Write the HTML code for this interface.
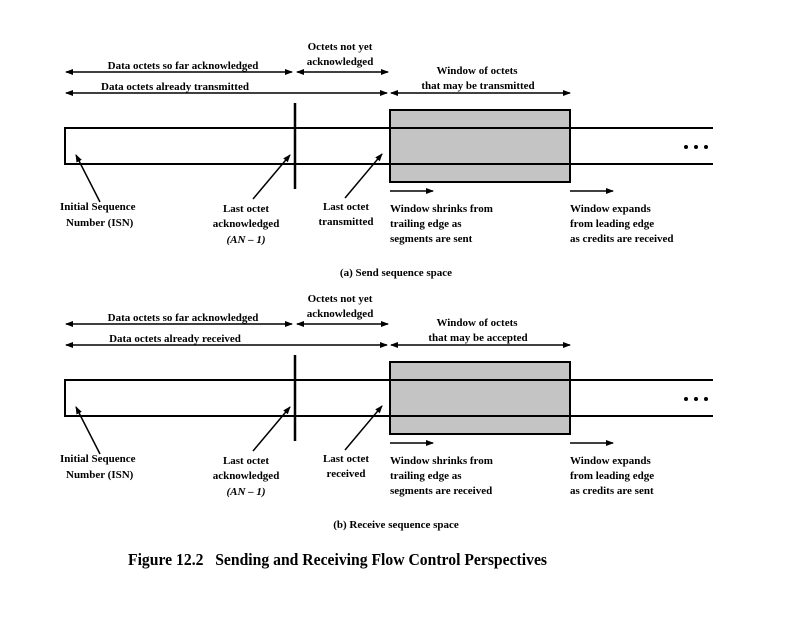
<!DOCTYPE html>
<html><head><meta charset="utf-8"><style>
html,body{margin:0;padding:0;background:#fff;}
svg text{font-family:"Liberation Serif",serif;font-weight:bold;font-size:11px;fill:#000;}
</style></head><body>
<svg width="792" height="612" viewBox="0 0 792 612" xmlns="http://www.w3.org/2000/svg">
<defs>
<marker id="a" markerWidth="8" markerHeight="6" refX="7" refY="3" orient="auto-start-reverse" markerUnits="userSpaceOnUse">
<path d="M0,0 L8,3 L0,6 Z" fill="#000"/></marker>
</defs>
<g id="pa" stroke="#000" stroke-width="1.5" fill="none">
<line x1="66" y1="72" x2="292" y2="72" marker-start="url(#a)" marker-end="url(#a)"/>
<line x1="297" y1="72" x2="388" y2="72" marker-start="url(#a)" marker-end="url(#a)"/>
<line x1="66" y1="93" x2="387" y2="93" marker-start="url(#a)" marker-end="url(#a)"/>
<line x1="391" y1="93" x2="570" y2="93" marker-start="url(#a)" marker-end="url(#a)"/>
<path d="M713,128 L65,128 L65,164 L713,164" stroke-width="2"/>
<rect x="390" y="110" width="180" height="72" fill="#c4c4c4" stroke-width="2"/>
<line x1="390" y1="128" x2="570" y2="128" stroke-width="2"/>
<line x1="390" y1="164" x2="570" y2="164" stroke-width="2"/>
<line x1="295" y1="103" x2="295" y2="189" stroke-width="2.5"/>
<line x1="100" y1="202" x2="76" y2="155" marker-end="url(#a)"/>
<line x1="253" y1="199" x2="290" y2="155" marker-end="url(#a)"/>
<line x1="345" y1="198" x2="382" y2="154" marker-end="url(#a)"/>
<line x1="390" y1="191" x2="433" y2="191" marker-end="url(#a)"/>
<line x1="570" y1="191" x2="613" y2="191" marker-end="url(#a)"/>
<g fill="#000" stroke="none"><circle cx="686" cy="147" r="2"/><circle cx="696" cy="147" r="2"/><circle cx="706" cy="147" r="2"/></g>
</g>
<g>
<text x="183" y="69" text-anchor="middle">Data octets so far acknowledged</text>
<text x="340" y="50" text-anchor="middle">Octets not yet</text>
<text x="340" y="65" text-anchor="middle">acknowledged</text>
<text x="477" y="74" text-anchor="middle">Window of octets</text>
<text x="478" y="89" text-anchor="middle">that may be transmitted</text>
<text x="60" y="210">Initial Sequence</text>
<text x="66" y="226">Number (ISN)</text>
<text x="246" y="212" text-anchor="middle">Last octet</text>
<text x="246" y="227" text-anchor="middle">acknowledged</text>
<text x="246" y="243" text-anchor="middle" font-style="italic">(AN – 1)</text>
<text x="346" y="210" text-anchor="middle">Last octet</text>
<text x="346" y="225" text-anchor="middle">transmitted</text>
<text x="390" y="212">Window shrinks from</text>
<text x="390" y="227">trailing edge as</text>
<text x="390" y="242">segments are sent</text>
<text x="570" y="212">Window expands</text>
<text x="570" y="227">from leading edge</text>
<text x="570" y="242">as credits are received</text>
<text x="396" y="276" text-anchor="middle" font-size="10">(a) Send sequence space</text>
</g>
<g transform="translate(0,252)">
<use href="#pa"/>
<text x="183" y="69" text-anchor="middle">Data octets so far acknowledged</text>
<text x="340" y="50" text-anchor="middle">Octets not yet</text>
<text x="340" y="65" text-anchor="middle">acknowledged</text>
<text x="175" y="90" text-anchor="middle">Data octets already received</text>
<text x="477" y="74" text-anchor="middle">Window of octets</text>
<text x="478" y="89" text-anchor="middle">that may be accepted</text>
<text x="60" y="210">Initial Sequence</text>
<text x="66" y="226">Number (ISN)</text>
<text x="246" y="212" text-anchor="middle">Last octet</text>
<text x="246" y="227" text-anchor="middle">acknowledged</text>
<text x="246" y="243" text-anchor="middle" font-style="italic">(AN – 1)</text>
<text x="346" y="210" text-anchor="middle">Last octet</text>
<text x="346" y="225" text-anchor="middle">received</text>
<text x="390" y="212">Window shrinks from</text>
<text x="390" y="227">trailing edge as</text>
<text x="390" y="242">segments are received</text>
<text x="570" y="212">Window expands</text>
<text x="570" y="227">from leading edge</text>
<text x="570" y="242">as credits are sent</text>
<text x="396" y="276" text-anchor="middle" font-size="10">(b) Receive sequence space</text>
</g>
<text x="175" y="90" text-anchor="middle">Data octets already transmitted</text>
<text x="128" y="565" style="font-size:17px" xml:space="preserve" textLength="419" lengthAdjust="spacingAndGlyphs">Figure 12.2   Sending and Receiving Flow Control Perspectives</text>
</svg>
</body></html>
